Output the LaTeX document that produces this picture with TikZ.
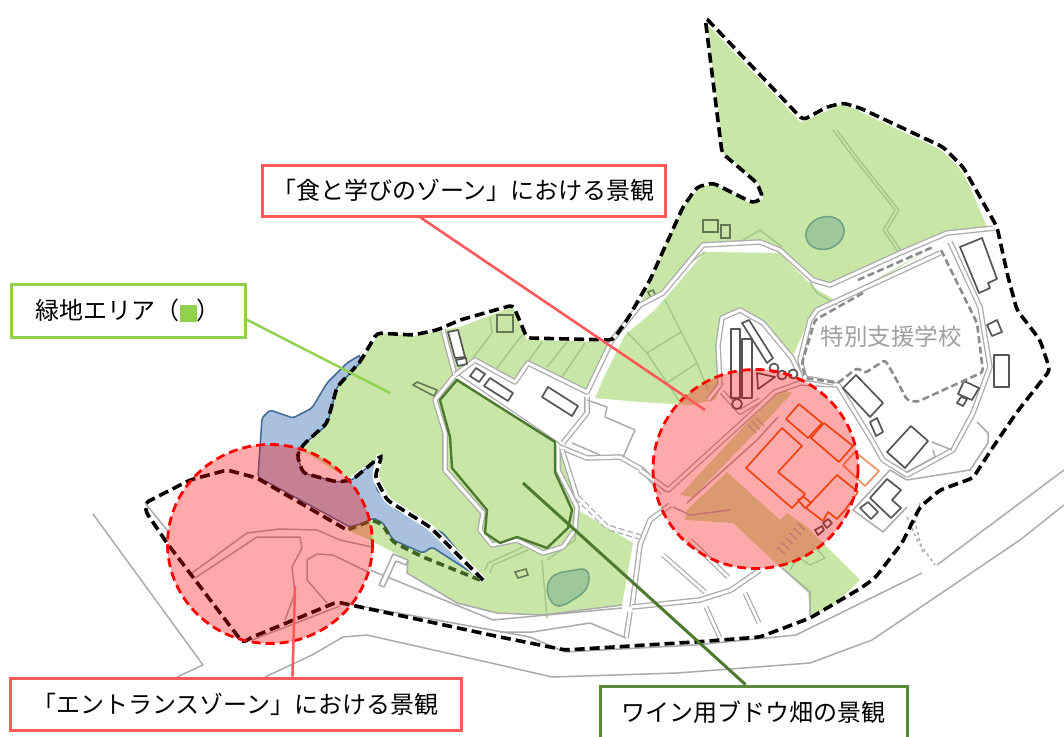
\documentclass[tikz,border=0pt]{standalone}
\usepackage{fontspec}
\newfontfamily\jp{Noto Sans CJK JP}
\usetikzlibrary{calc}
\definecolor{gfill}{HTML}{C8E6A5}
\definecolor{gline}{HTML}{A3C58C}
\definecolor{roadg}{HTML}{ABABAB}
\definecolor{bfill}{HTML}{A9C0DE}
\definecolor{bline}{HTML}{3E6A95}
\definecolor{pond}{HTML}{9FC89A}
\definecolor{pondl}{HTML}{6FA080}
\definecolor{vine}{HTML}{4E7A30}
\definecolor{redb}{HTML}{FF5A5A}
\definecolor{lgreen}{HTML}{92D050}
\definecolor{dgreen}{HTML}{5B8A3A}
\definecolor{orng}{HTML}{E8641E}
\definecolor{bldg}{HTML}{555555}
\tikzset{
 greenarea/.style={fill=gfill,draw=none},
 road/.style={draw=roadg,double=white,double distance=3pt,line width=1.3pt,line join=round},
 narrow/.style={draw=roadg,double=white,double distance=2.6pt,line width=1.2pt},
 thinroad/.style={draw=roadg,line width=1.5pt,line join=round},
 fieldline/.style={draw=gline,line width=1.4pt,line join=round},
 bldgbox/.style={draw=bldg,fill=white,line width=1.7pt,line join=round},
 fieldbox/.style={draw=gline!60!black,line width=1.5pt},
 orngbox/.style={draw=orng,line width=1.7pt,line join=round},
 boundary/.style={draw=black,line width=3.6pt,dash pattern=on 10pt off 5pt,rounded corners=4pt},
 halo/.style={draw=white,line width=6.5pt,rounded corners=4pt},
 schoolfence/.style={draw=gray!90,line width=2.6pt,dash pattern=on 7pt off 3.5pt},
 watcher/.style={fill=red,fill opacity=.333,draw=none},
 watchring/.style={draw=red,line width=2.8pt,dash pattern=on 9pt off 5pt},
 pondarea/.style={fill=pond,draw=pondl,line width=1.5pt},
 callout/.style={fill=white,line width=3pt,inner sep=0pt,font=\jp\fontsize{24}{27}\selectfont,text=black},
}
\begin{document}
\begin{tikzpicture}[x=1pt,y=-1pt]
\useasboundingbox (0,0) rectangle (1064,736);
% ---------- green areas
\fill[greenarea] (707,23) -- (802,122) -- (840,105) -- (860,110) -- (943,148) -- (963,170) -- (987,227) -- (947,233) -- (900,253) -- (843,277) -- (830,285) -- (813,280) -- (780,250) -- (760,242) -- (703,245) -- (663,293) -- (640,305) -- (650,282) -- (683,207) -- (700,187) -- (713,184) -- (750,203) -- (763,199) -- (758,183) -- (723,153) -- cycle;
\fill[greenarea] (380,333) -- (413,336) -- (437,331) -- (460,327) -- (513,307) -- (527,340) -- (612,342) -- (587,392) -- (528,363) -- (558,445) -- (578,510) -- (633,543) -- (622,605) -- (543,615) -- (497,613) -- (457,603) -- (407,573) -- (408,560) -- (370,540) -- (347,530) -- (370,520) -- (400,520) -- (375,477) -- (380,455) -- (350,477) -- (337,472) -- (302,450) -- (327,423) -- (337,387) -- (360,362) -- cycle;
% white block and wedge east of the vineyard
\fill[white] (457,378) -- (475,360) -- (515,382) -- (528,363) -- (587,392) -- (587,413) -- (563,443) -- (555,445) -- cycle;
\fill[white] (558,445) -- (587,392) -- (595,398) -- (640,402) -- (700,405) -- (700,520) -- (640,540) -- (578,507) -- cycle;
\fill[greenarea] (655,310) -- (705,252) -- (780,253) -- (813,287) -- (840,303) -- (933,247) -- (810,317) -- (792,358) -- (763,323) -- (740,310) -- (722,318) -- (718,345) -- (722,385) -- (715,400) -- (690,405) -- (640,402) -- (595,398) -- (605,375) -- (625,335) -- cycle;
\fill[greenarea] (680,495) -- (693,497) -- (755,433) -- (792,393) -- (782,389) -- (747,423) -- cycle;
\fill[greenarea] (685,520) -- (687,510) -- (727,472) -- (750,493) -- (780,520) -- (787,513) -- (807,527) -- (860,580) -- (830,608) -- (810,615) -- (808,593) -- (780,567) -- (733,523) -- cycle;
% ---------- field lines
\draw[fieldline] (665,300) -- (697,363) -- (708,390);
\draw[fieldline] (627,332) -- (647,353) -- (667,383) -- (680,402);
\draw[fieldline] (647,353) -- (681,332) (667,383) -- (697,363);
\draw[fieldline] (473,358) -- (492,333) -- (490,317);
\draw[fieldline] (497,368) -- (522,335) (515,380) -- (542,342) (547,367) -- (567,342) (562,377) -- (585,343);
\draw[fieldline] (833,130) -- (853,157) -- (895,210) -- (883,230) -- (900,255);
\draw[fieldline] (837,130) -- (857,157) -- (899,210) -- (887,230) -- (904,255);
\draw[fieldline] (743,240) -- (760,230) -- (782,247);
\draw[fieldline] (705,252) -- (680,270) -- (663,293);
\draw[fieldline] (810,282) -- (817,293) -- (837,305);
\draw[fieldline] (485,570) -- (488,563) -- (523,547);
\draw[fieldline] (490,573) -- (493,565) -- (528,550);
\draw[fieldline] (542,560) -- (547,618);
\draw[fieldline] (547,560) -- (575,540) -- (578,513);
\draw[fieldline] (790,570) -- (798,557) -- (810,565) -- (825,558) -- (818,550);
% ponds and little field boxes
\draw[pondarea,rotate around={20:(825,233)}] (825,233) ellipse [x radius=19.5,y radius=16];
\draw[pondarea,rounded corners=6pt] (548,580) -- (557,573) -- (587,568) -- (590,580) -- (585,592) -- (565,605) -- (555,607) -- (547,595) -- cycle;
\draw[fieldbox] (497,315) rectangle (513,332);
\draw[fieldbox] (413,385) -- (417,382) -- (437,390) -- (434,396) -- cycle;
\draw[fieldbox] (703,220) rectangle (718,232);
\draw[fieldbox] (721,225) rectangle (730,238);
\draw[fieldbox] (648,292) -- (653,290) -- (656,296) -- (651,298) -- cycle;
\draw[fieldbox] (515,572) -- (526,569) -- (528,575) -- (518,578) -- cycle;
% ---------- roads
\draw[road] (455,375) -- (558,445) -- (558,470) -- (577,507) -- (575,530) -- (563,547) -- (543,553) -- (517,540) -- (492,545) -- (480,530) -- (483,513) -- (445,470) -- (445,433) -- (435,400) -- cycle;
\draw[road] (443,330) -- (455,375);
\draw[road] (455,375) -- (475,360) -- (515,382) -- (528,363) -- (587,392) -- (612,340) -- (640,305) -- (663,293) -- (703,245) -- (760,242) -- (780,250) -- (813,280) -- (830,285) -- (900,253) -- (947,233) -- (995,228);
\draw[road] (587,397) -- (587,413) -- (563,443);
\draw[road] (560,447) -- (587,458) -- (620,457) -- (643,470) -- (663,493);
\draw[thinroad] (587,400) -- (607,407) -- (605,417) -- (635,430) -- (623,457);
\draw[thinroad] (572,443) -- (600,455);
\draw[road,dash pattern=on 6pt off 3pt] (577,497) -- (607,527) -- (640,537);
\draw[road] (562,450) -- (577,497);
\draw[road] (670,505) -- (650,520) -- (640,545) -- (632,607);
\draw[road] (632,607) -- (700,600) -- (731,590) -- (760,570);
\draw[road] (626,638) -- (630,612);
\draw[thinroad] (500,632) -- (532,632) -- (590,623) -- (626,638);
\draw[road] (640,470) -- (668,490) -- (745,420) -- (775,392) -- (800,383) -- (838,385) -- (870,437) -- (883,460) -- (907,475) -- (953,450) -- (973,413) -- (990,367) -- (980,307) -- (950,242);
\draw[road] (940,253) -- (817,310) -- (810,320) -- (800,360) -- (805,378) -- (833,383);
\draw[road] (708,400) -- (720,385) -- (718,345) -- (722,318) -- (740,310) -- (763,323) -- (792,358) -- (800,375);
\draw[road] (722,392) -- (740,412) -- (760,400);
\draw[thinroad] (778,417) -- (757,440) -- (687,503);
\draw[thinroad] (673,507) -- (690,515) -- (730,510);
\draw[thinroad] (932,442) -- (952,450) (977,422) -- (988,433) -- (988,443) -- (970,470) -- (907,480) -- (890,470);
\draw[thinroad] (933,450) -- (935,457) -- (907,472);
\draw[thinroad] (890,470) -- (853,510) -- (883,532) -- (907,507);
\draw[narrow] (663,555) -- (705,592);
\draw[narrow] (690,540) -- (728,577);
\draw[narrow] (745,593) -- (759,623);
\draw[narrow] (706,607) -- (720,638);
\draw[thinroad] (782,568) -- (810,592) -- (810,615);
\draw[thinroad,dashed] (907,517) -- (917,540) -- (935,565);
\draw[thinroad,dashed] (920,503) -- (915,523) -- (923,553);
% outer thin lines
\draw[thinroad] (93,514) -- (203,665) -- (177,677);
\draw[thinroad] (265,677) -- (312,655) -- (343,637) -- (367,635) -- (500,665) -- (552,677) -- (677,673) -- (810,663) -- (872,640) -- (1020,540) -- (1064,505);
\draw[thinroad] (343,603) -- (530,637) -- (565,652) -- (695,645) -- (796,635) -- (861,603) -- (922,573);
\draw[thinroad] (937,565) -- (1064,470);
\draw[thinroad] (370,570) -- (493,620) -- (622,608);
\draw[thinroad] (408,560) -- (407,573) -- (457,603) -- (497,613) -- (543,615) -- (622,605);
\draw[thinroad] (192,573) -- (247,533) -- (280,529) -- (317,530) -- (340,540) -- (372,547);
\draw[thinroad] (195,578) -- (257,537) -- (300,537) -- (302,548) -- (292,567) -- (295,593) -- (285,620);
\draw[thinroad] (327,603) -- (307,580) -- (307,560) -- (317,554) -- (333,555) -- (370,573);
\draw[thinroad] (252,640) -- (340,606);
\draw[thinroad] (145,503) -- (167,530);
\draw[thinroad,fill=white] (393,554) -- (408,560) -- (406,565) -- (396,561) -- (384,587) -- (379,585) -- cycle;
% ---------- buildings
\draw[bldgbox] (448,332) -- (458,330) -- (465,357) -- (455,358) -- cycle;
\draw[bldgbox] (456,360) -- (466,358) -- (467,364) -- (458,366) -- cycle;
\draw[bldgbox] (470,376) -- (476,368) -- (485,374) -- (479,382) -- cycle;
\draw[bldgbox] (484,386) -- (490,378) -- (513,393) -- (508,401) -- cycle;
\draw[bldgbox] (548,387) -- (578,406) -- (572,416) -- (542,397) -- cycle;
\draw[bldgbox] (742,323) -- (749,320) -- (773,358) -- (767,363) -- cycle;
\draw[bldgbox] (731,329) rectangle (740,398);
\draw[bldgbox] (742,339) rectangle (752,398);
\draw[bldgbox] (774,368) circle [radius=4.5];
\draw[bldgbox] (782,375) circle [radius=4.5];
\draw[bldgbox] (793,374) circle [radius=4.5];
\draw[bldgbox] (737,404) circle [radius=5];
\draw[bldgbox] (757,373) -- (775,377) -- (758,389) -- cycle;
\draw[bldgbox] (960,247) -- (982,238) -- (997,279) -- (988,283) -- (990,288) -- (979,293) -- cycle;
\draw[bldgbox] (987,325) -- (997,320) -- (1002,332) -- (992,336) -- cycle;
\draw[bldgbox] (994,355) rectangle (1009,387);
\draw[bldgbox] (964,381) -- (979,388) -- (972,400) -- (958,394) -- cycle;
\draw[bldgbox] (961,397) -- (967,399) -- (963,406) -- (957,403) -- cycle;
\draw[bldgbox] (843,388) -- (856,375) -- (883,403) -- (870,417) -- cycle;
\draw[bldgbox] (870,422) -- (877,418) -- (883,432) -- (876,436) -- cycle;
\draw[bldgbox] (887,452) -- (911,426) -- (928,441) -- (905,468) -- cycle;
\draw[bldgbox] (870,498) -- (887,479) -- (901,490) -- (892,500) -- (901,508) -- (891,518) -- cycle;
\draw[bldgbox] (860,508) -- (868,502) -- (878,512) -- (871,519) -- cycle;
\draw[bldgbox] (815,530) -- (822,526) -- (824,530) -- (818,535) -- cycle;
\draw[bldgbox] (823,523) -- (828,519) -- (832,523) -- (827,528) -- cycle;
% school fence
\draw[schoolfence] (858,280) -- (933,247);
\draw[schoolfence,rounded corners=3pt] (863,293) -- (815,320) -- (802,363) -- (805,378) -- (838,383) -- (857,368) -- (865,373) -- (885,360) -- (895,377) -- (907,400) -- (917,402) -- (983,372) -- (977,323) -- (940,248);
% crosswalk stripes
\foreach \t in {0,.2,.4,.6,.8,1}{\draw[draw=gray!70,line width=1pt] ($(777,547)!\t!(797,523)$) -- ++(8,7);}
\foreach \t in {0,.5,1}{\draw[draw=gray!70,line width=1pt] ($(748,425)!\t!(756,418)$) -- ++(8,8);}
% orange buildings
\draw[orngbox] (786,419) -- (799,404) -- (822,423) -- (808,438) -- cycle;
\draw[orngbox] (811,438) -- (824,423) -- (853,446) -- (839,462) -- cycle;
\draw[orngbox,orng!70] (843,465) -- (855,452) -- (879,471) -- (865,486) -- cycle;
\draw[orngbox] (746,468) -- (782,428) -- (802,446) -- (778,472) -- (805,494) -- (792,508) -- cycle;
\draw[orngbox] (806,508) -- (837,475) -- (858,492) -- (845,510) -- (837,519) -- (828,512) -- (823,521) -- cycle;
\draw[orngbox] (798,500) -- (804,497) -- (811,503) -- (805,508) -- cycle;
% ---------- vineyard
\draw[vine,line width=2.4pt,fill=gfill,line join=round] (457,380) -- (555,442) -- (555,472) -- (572,510) -- (568,528) -- (547,548) -- (517,537) -- (500,543) -- (485,533) -- (487,510) -- (452,468) -- (450,437) -- (440,400) -- cycle;
% ---------- pond (blue)
\draw[fill=bfill,draw=bline,line width=1.5pt,line join=round,rounded corners=2pt] (360,355) -- (347,363) -- (327,383) -- (312,408) -- (293,418) -- (270,410) -- (262,418) -- (258,477) -- (350,527) -- (367,522) -- (373,518) -- (383,523) -- (393,540) -- (423,553) -- (432,547) -- (480,578) -- (443,533) -- (430,527) -- (397,510) -- (377,490) -- (375,477) -- (382,455) -- (352,480) -- (337,482) -- (303,473) -- (297,455) -- (303,445) -- (327,425) -- (337,387) -- (360,363) -- cycle;
% ---------- site boundary
\draw[halo] (705,17) -- (803,120);
\draw[halo] (860,108) -- (943,147) -- (963,167) -- (997,227);
\draw[halo] (380,455) -- (375,477) -- (387,500) -- (430,527) -- (483,580);
\draw[boundary] (483,580) -- (430,527) -- (387,500) -- (375,477) -- (382,455) -- (352,480) -- (337,482) -- (303,473) -- (297,455) -- (303,445) -- (327,423) -- (337,387) -- (360,362) -- (377,333) -- (413,335) -- (437,330) -- (460,320) -- (513,305) -- (527,338) -- (613,340) -- (627,320) -- (650,280) -- (683,207) -- (697,187) -- (713,183) -- (753,203) -- (763,198) -- (757,183) -- (722,153) -- (705,17) -- (803,120) -- (827,107) -- (843,103) -- (860,108) -- (943,147) -- (963,167) -- (997,227) -- (1008,277) -- (1017,310) -- (1040,340) -- (1050,370) -- (1017,412) -- (993,447) -- (973,478) -- (940,490) -- (920,507) -- (902,543) -- (875,578) -- (861,588) -- (810,618) -- (760,637) -- (695,642) -- (565,650) -- (500,637) -- (337,602) -- (250,638) -- (243,643) -- (167,543) -- (146,512) -- (145,503) -- (190,480) -- (227,470) -- (257,478) -- (347,530);
\draw[boundary,draw=vine!80!black,dash pattern=on 8pt off 5pt] (480,580) -- (423,557) -- (393,542) -- (383,525) -- (373,520) -- (347,530);
% ---------- zones
\path[watcher] (270,544) ellipse [x radius=102.5,y radius=99.5];
\path[watcher] (755.5,469) ellipse [x radius=102.5,y radius=99.5];
\draw[watchring] (270,544) ellipse [x radius=102.5,y radius=99.5];
\draw[watchring] (755.5,469) ellipse [x radius=102.5,y radius=99.5];
% ---------- texts and callouts
\node[text=gray!75,font=\jp\fontsize{23.5}{26}\selectfont,inner sep=0pt] (school) at (891,337) {特別支援学校};
\coordinate (zoneA) at (705,410);
\coordinate (greenB) at (390,393);
\coordinate (vineC) at (523,483);
\coordinate (zoneD) at (295,586);
\node[callout,draw=redb,minimum width=403pt,minimum height=51pt] (boxa) at (463.5,190.5) {「食と学びのゾーン」における景観};
\node[callout,draw=lgreen,minimum width=234pt,minimum height=53pt] (boxb) at (128,310.5) {緑地エリア（\textcolor{lgreen}{\rule[-2pt]{17pt}{17pt}}）};
\node[callout,draw=redb,minimum width=451pt,minimum height=52pt] (boxd) at (235.5,704) {「エントランスゾーン」における景観};
\node[callout,draw=dgreen,minimum width=307pt,minimum height=52pt] (boxc) at (753.5,712) {ワイン用ブドウ畑の景観};
\draw[redb,line width=2.6pt] ([xshift=-43pt]boxa.south) -- (zoneA);
\draw[lgreen,line width=2.4pt] ([yshift=-9pt]boxb.east) -- (greenB);
\draw[vine,line width=3pt] (vineC) -- ([xshift=-8pt]boxc.north);
\draw[redb,line width=2.6pt] ([xshift=57pt]boxd.north) -- (zoneD);
\end{tikzpicture}
\end{document}
